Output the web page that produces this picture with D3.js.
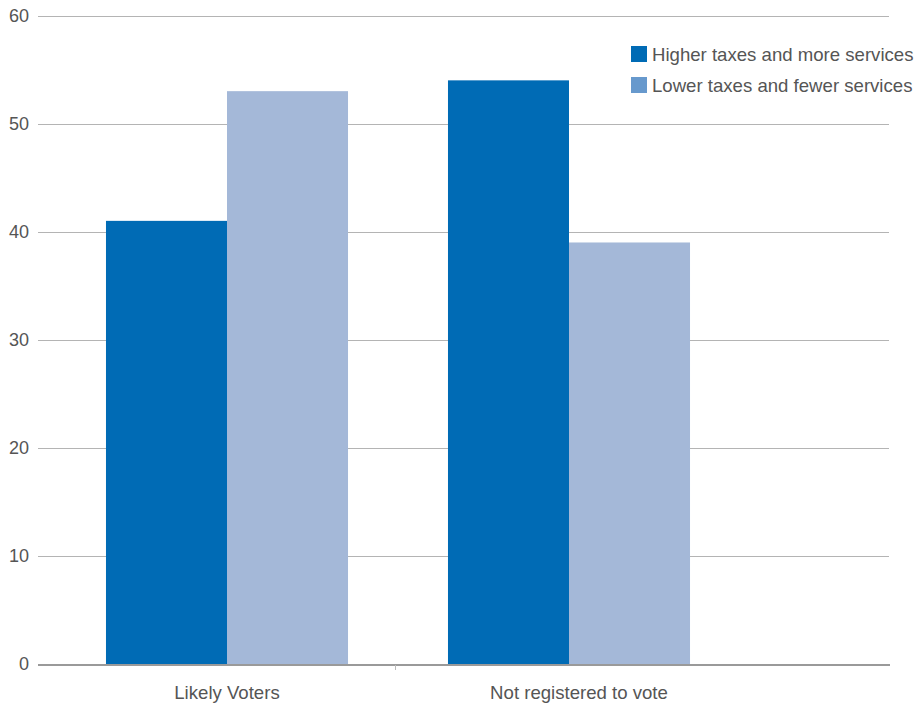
<!DOCTYPE html>
<html>
<head>
<meta charset="utf-8">
<script src="https://cdn.jsdelivr.net/npm/d3@7"></script>
<style>
  body { margin: 0; background: #fff; }
  text { font-family: "Liberation Sans", Arial, Helvetica, sans-serif; fill: #555; }
</style>
</head>
<body>
<div id="chart"></div>
<script>
var categories = ["Likely Voters", "Not registered to vote"];
var seriesNames = ["Higher taxes and more services", "Lower taxes and fewer services"];
var higherValues = [41, 54];
var lowerValues = [53, 39];
var yTicks = [0, 10, 20, 30, 40, 50, 60];

var barColors = ["#006bb5", "#a4b8d8"];
var legendColors = ["#006bb5", "#6799cd"];

var width = 914, height = 705;

var svg = d3.select("#chart").append("svg")
    .attr("width", width)
    .attr("height", height);

var x = d3.scaleBand()
    .domain(categories)
    .range([56, 740])
    .paddingInner(0)
    .paddingOuter(0);

var xInner = d3.scaleBand()
    .domain(seriesNames)
    .range([0, x.bandwidth()])
    .paddingInner(0)
    .paddingOuter(0.413);

var y = d3.scaleLinear()
    .domain([0, 60])
    .range([664, 15.5]);

// grid lines
svg.append("g").attr("class", "grid")
    .selectAll("line")
    .data(yTicks.filter(function(d) { return d > 0; }))
    .enter().append("line")
    .attr("x1", 38)
    .attr("x2", 889)
    .attr("y1", function(d) { return Math.round(y(d)) + 0.5; })
    .attr("y2", function(d) { return Math.round(y(d)) + 0.5; })
    .attr("stroke", "#b4b4b4")
    .attr("stroke-width", 1);

// y labels
svg.append("g").attr("class", "yaxis")
    .selectAll("text")
    .data(yTicks)
    .enter().append("text")
    .attr("x", 29)
    .attr("y", function(d) { return y(d); })
    .attr("dy", "0.36em")
    .attr("text-anchor", "end")
    .attr("font-size", 18)
    .text(function(d) { return d; });

// bars
var rows = categories.map(function(c, i) {
    return { category: c, values: [higherValues[i], lowerValues[i]] };
});

var groups = svg.append("g").attr("class", "plot")
    .selectAll("g")
    .data(rows)
    .enter().append("g")
    .attr("transform", function(d) { return "translate(" + x(d.category) + ",0)"; });

groups.selectAll("rect")
    .data(function(d) {
        return d.values.map(function(v, j) { return { series: seriesNames[j], value: v, idx: j }; });
    })
    .enter().append("rect")
    .attr("x", function(d) { return xInner(d.series); })
    .attr("width", xInner.bandwidth())
    .attr("y", function(d) { return y(d.value); })
    .attr("height", function(d) { return y(0) - y(d.value); })
    .attr("fill", function(d) { return barColors[d.idx]; });

// x axis line
svg.append("line")
    .attr("x1", 38)
    .attr("x2", 890)
    .attr("y1", 665)
    .attr("y2", 665)
    .attr("stroke", "#9a9a9a")
    .attr("stroke-width", 2);

// separator tick between categories
svg.append("g").selectAll("line")
    .data(categories.slice(1))
    .enter().append("line")
    .attr("x1", function(d) { return Math.round(x(d)) - 2.5; })
    .attr("x2", function(d) { return Math.round(x(d)) - 2.5; })
    .attr("y1", 665)
    .attr("y2", 670)
    .attr("stroke", "#bbb")
    .attr("stroke-width", 1);

// x labels
svg.append("g").attr("class", "xaxis")
    .selectAll("text")
    .data(categories)
    .enter().append("text")
    .attr("x", function(d, i) { return x(d) + x.bandwidth() / 2 + (i === 1 ? 10 : 0); })
    .attr("y", 699)
    .attr("text-anchor", "middle")
    .attr("font-size", 18.6)
    .text(function(d) { return d; });

// legend
var legend = svg.append("g").attr("class", "legend")
    .selectAll("g")
    .data(seriesNames)
    .enter().append("g")
    .attr("transform", function(d, i) { return "translate(631," + (46 + i * 31) + ")"; });

legend.append("rect")
    .attr("width", 16)
    .attr("height", 16)
    .attr("fill", function(d, i) { return legendColors[i]; });

legend.append("text")
    .attr("x", 21)
    .attr("y", 8)
    .attr("dy", "0.36em")
    .attr("font-size", 18.6)
    .text(function(d) { return d; });
</script>
</body>
</html>
